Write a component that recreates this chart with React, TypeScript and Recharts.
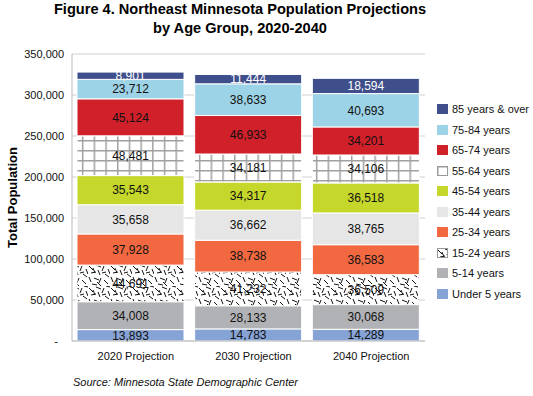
import React from "react";
import { BarChart, Bar, XAxis, YAxis, CartesianGrid, LabelList, Label } from "recharts";

const categories = ["2020 Projection", "2030 Projection", "2040 Projection"];
const under5 = [13893, 14783, 14289];
const age5to14 = [34008, 28133, 30068];
const age15to24 = [44691, 41232, 36509];
const age25to34 = [37928, 38738, 36583];
const age35to44 = [35658, 36662, 38765];
const age45to54 = [35543, 34317, 36518];
const age55to64 = [48481, 34181, 34106];
const age65to74 = [45124, 46933, 34201];
const age75to84 = [23712, 38633, 40693];
const age85plus = [8901, 11444, 18594];
const yTicks = [0, 50000, 100000, 150000, 200000, 250000, 300000, 350000];

const series = [
  { key: "u5", name: "Under 5 years", values: under5, fill: "#86A3D6", text: "#111" },
  { key: "a5", name: "5-14 years", values: age5to14, fill: "#B1B2B5", text: "#111" },
  { key: "a15", name: "15-24 years", values: age15to24, fill: "url(#dashes)", text: "#111" },
  { key: "a25", name: "25-34 years", values: age25to34, fill: "#F26941", text: "#111" },
  { key: "a35", name: "35-44 years", values: age35to44, fill: "#E6E6E6", text: "#111" },
  { key: "a45", name: "45-54 years", values: age45to54, fill: "#C5D72B", text: "#111" },
  { key: "a55", name: "55-64 years", values: age55to64, fill: "url(#gridpat)", text: "#111" },
  { key: "a65", name: "65-74 years", values: age65to74, fill: "#D0202A", text: "#111" },
  { key: "a75", name: "75-84 years", values: age75to84, fill: "#9DD3E6", text: "#111" },
  { key: "a85", name: "85 years & over", values: age85plus, fill: "#3F4F8C", text: "#fff" },
];

const data = categories.map((c, i) => {
  const row: Record<string, string | number> = { name: c };
  series.forEach((s) => {
    row[s.key] = s.values[i];
  });
  return row;
});

const FONT = "'Liberation Sans', Arial, Helvetica, sans-serif";
const fmt = (v: number) => (v === 0 ? "-\u00a0\u00a0" : v.toLocaleString("en-US"));

const dashLines = [
  [1, 2, 5, 6], [8, 1, 13, 3], [16, 2, 14, 7], [20, 5, 22, 10],
  [3, 9, 8, 8], [10, 6, 12, 11], [17, 10, 21, 13], [1, 13, 3, 18],
  [6, 14, 11, 16], [13, 14, 11, 19], [16, 16, 20, 20], [4, 20, 9, 21],
  [18, 0, 22, 1], [9, 18, 13, 22], [5, 4, 7, 9], [14, 9, 18, 8],
];

const Defs = () => (
  <defs>
    <pattern id="dashes" patternUnits="userSpaceOnUse" width="22" height="22">
      <rect width="22" height="22" fill="#fff" />
      {dashLines.map((l, i) => (
        <line key={i} x1={l[0]} y1={l[1]} x2={l[2]} y2={l[3]} stroke="#111" strokeWidth="1" />
      ))}
    </pattern>
    <pattern id="gridpat" patternUnits="userSpaceOnUse" width="11.7" height="10">
      <rect width="11.7" height="10" fill="#fff" />
      <line x1="0.75" y1="0" x2="0.75" y2="10" stroke="#A0A0A0" strokeWidth="1.5" />
      <line x1="0" y1="0.75" x2="11.7" y2="0.75" stroke="#A0A0A0" strokeWidth="1.5" />
    </pattern>
  </defs>
);

export default function App() {
  const legendItems = [...series].reverse();
  return (
    <div style={{ position: "absolute", left: 0, top: 0, width: 533, height: 396, background: "#fff", fontFamily: FONT }}>
      <div style={{ position: "absolute", left: 0, top: 0, width: 480, textAlign: "center", fontWeight: "bold", fontSize: 14.6, lineHeight: "18.5px", color: "#000" }}>
        <div>Figure 4. Northeast Minnesota Population Projections</div>
        <div>by Age Group, 2020-2040</div>
      </div>
      <BarChart width={533} height={396} data={data} margin={{ top: 54, right: 108, bottom: 25, left: 0 }}>
        <Defs />
        <CartesianGrid vertical={false} stroke="#D0D0D0" />
        <XAxis
          dataKey="name"
          axisLine={{ stroke: "#BBBBBB" }}
          tickLine={false}
          tickSize={0}
          tickMargin={11}
          dx={5}
          height={30}
          tick={{ fontSize: 11, fill: "#111", fontFamily: FONT }}
        />
        <YAxis
          domain={[0, 350000]}
          ticks={yTicks}
          width={72}
          axisLine={{ stroke: "#BBBBBB" }}
          tickLine={false}
          tickSize={0}
          tickMargin={8}
          tickFormatter={fmt}
          interval={0}
          tick={{ fontSize: 11, fill: "#111", fontFamily: FONT }}
        >
          <Label
            content={(props: any) => {
              const vb = props.viewBox || { x: 0, y: 54, width: 72, height: 287 };
              const cx = vb.x + 12;
              const cy = vb.y + vb.height / 2;
              return (
                <text x={cx} y={cy} transform={`rotate(-90 ${cx} ${cy})`} textAnchor="middle" dominantBaseline="central" fontSize={13} fontWeight="bold" fill="#000" fontFamily={FONT}>
                  Total Population
                </text>
              );
            }}
          />
        </YAxis>
        <YAxis yAxisId="r" orientation="right" domain={[0, 350000]} width={0} tick={false} tickLine={false} axisLine={{ stroke: "#BBBBBB" }} />
        {series.map((s) => (
          <Bar key={s.key} dataKey={s.key} name={s.name} stackId="a" fill={s.fill} stroke="#fff" strokeWidth={1} barSize={107} isAnimationActive={false}>
            <LabelList dataKey={s.key} position="center" formatter={(v: any) => Number(v).toLocaleString("en-US")} fill={s.text} fontSize={12} fontFamily={FONT} />
          </Bar>
        ))}
      </BarChart>
      {legendItems.map((s, i) => (
        <div key={s.key} style={{ position: "absolute", left: 437, top: 102 + i * 20.55, height: 14, display: "flex", alignItems: "center", fontSize: 11, color: "#111", whiteSpace: "nowrap" }}>
          <svg width={11} height={10} style={{ marginRight: 4 }}>
            <Defs />
            <rect x={0.5} y={0.5} width={10} height={9} fill={s.fill} stroke={s.fill.startsWith("url") ? "#999" : s.fill} strokeWidth={1} />
          </svg>
          <span>{s.name}</span>
        </div>
      ))}
      <div style={{ position: "absolute", left: 73, top: 376, fontSize: 11, fontStyle: "italic", color: "#111" }}>
        Source: Minnesota State Demographic Center
      </div>
    </div>
  );
}
